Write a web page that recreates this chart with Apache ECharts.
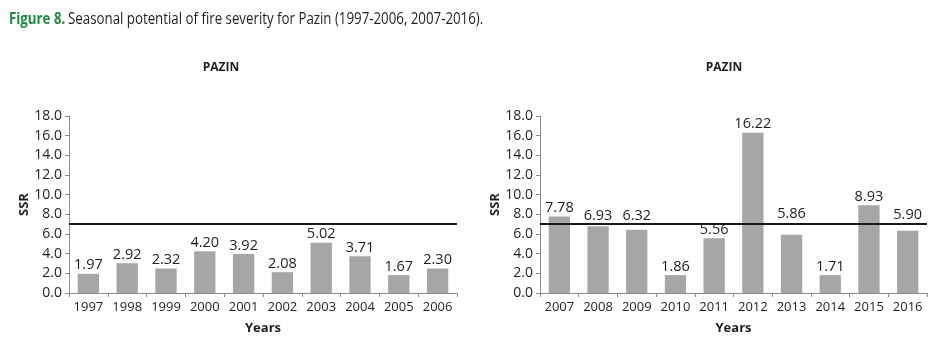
<!DOCTYPE html>
<html>
<head>
<meta charset="utf-8">
<script src="https://cdn.jsdelivr.net/npm/echarts@6/dist/echarts.min.js"></script>
<style>
  html, body { margin: 0; padding: 0; background: #ffffff; }
  #chart { width: 942px; height: 357px; }
</style>
</head>
<body>
<div id="chart"></div>
<script>
// ---- data ----
const yearsA = ['1997','1998','1999','2000','2001','2002','2003','2004','2005','2006'];
const barsA = [1.95, 3.03, 2.49, 4.24, 3.97, 2.12, 5.12, 3.74, 1.82, 2.49];
const labelsA = ['1.97','2.92','2.32','4.20','3.92','2.08','5.02','3.71','1.67','2.30'];

const yearsB = ['2007','2008','2009','2010','2011','2012','2013','2014','2015','2016'];
const barsB = [7.78, 6.80, 6.43, 1.82, 5.56, 16.30, 5.93, 1.82, 8.92, 6.33];
const labelsB = ['7.78','6.93','6.32','1.86','5.56','16.22','5.86','1.71','8.93','5.90'];

const threshold = 7.0;
const yTicks = ['0.0','2.0','4.0','6.0','8.0','10.0','12.0','14.0','16.0','18.0'];
const figureTag = 'Figure 8.';
const caption = 'Seasonal potential of fire severity for Pazin (1997-2006, 2007-2016).';
const panelTitle = 'PAZIN';
const xName = 'Years';
const yName = 'SSR';

// ---- chart ----
const FONT = '"Open Sans", "Noto Sans", sans-serif';
const TEXT = '#1f1f1f';
const AXIS = '#8c8c8c';
const BAR = '#a6a6a8';
const BASE_DIST = 1;

// extra label distance (px) for labels that were moved above the threshold line
const liftB = { '2008': 2, '2009': 5, '2013': 12, '2016': 7 };

function makeData(values, labels, years, lift) {
  return values.map((v, i) => {
    const extra = (lift && lift[years[i]]) || 0;
    return { value: v, label: { formatter: labels[i], distance: BASE_DIST + extra } };
  });
}

function xAxis(gridIndex, years) {
  return {
    type: 'category', gridIndex, data: years,
    axisLine: { lineStyle: { color: AXIS, width: 1 } },
    axisTick: { show: true, length: 4, lineStyle: { color: AXIS } },
    axisLabel: { color: TEXT, fontFamily: FONT, fontSize: 13, margin: 8, interval: 0 },
    name: xName, nameLocation: 'middle', nameGap: 29,
    nameTextStyle: { color: TEXT, fontFamily: FONT, fontSize: 13, fontWeight: 'bold' }
  };
}
function yAxis(gridIndex) {
  return {
    type: 'value', gridIndex, min: 0, max: 18, interval: 2,
    axisLine: { show: true, lineStyle: { color: AXIS, width: 1 } },
    axisTick: { show: true, length: 4, lineStyle: { color: AXIS } },
    splitLine: { show: false },
    axisLabel: { color: TEXT, fontFamily: FONT, fontSize: 14, margin: 7,
      formatter: v => yTicks[Math.round(v / 2)] },
    name: yName, nameLocation: 'middle', nameGap: 35,
    nameTextStyle: { color: TEXT, fontFamily: FONT, fontSize: 13, fontWeight: 'bold' }
  };
}
function barSeries(idx, values, labels, years, lift) {
  return {
    type: 'bar', xAxisIndex: idx, yAxisIndex: idx,
    data: makeData(values, labels, years, lift),
    barCategoryGap: '45%',
    itemStyle: { color: BAR },
    label: { show: true, position: 'top', distance: BASE_DIST, color: TEXT, fontFamily: FONT, fontSize: 14.5 },
    markLine: {
      silent: true, symbol: ['none', 'none'],
      label: { show: false },
      lineStyle: { color: '#1a1a1a', width: 2, type: 'solid' },
      data: [{ yAxis: threshold }]
    },
    animation: false
  };
}

const chart = echarts.init(document.getElementById('chart'), null, { renderer: 'canvas' });
chart.setOption({
  animation: false,
  backgroundColor: '#ffffff',
  graphic: [
    { type: 'text', left: 9, top: 11, scaleX: 0.83, silent: true,
      style: {
        text: '{g|' + figureTag + '} {t|' + caption + '}',
        rich: {
          g: { fill: '#1e8a3c', fontFamily: FONT, fontSize: 16, fontWeight: 'bold' },
          t: { fill: TEXT, fontFamily: FONT, fontSize: 16, fontWeight: 'normal' }
        }
      } }
  ],
  title: [
    { text: panelTitle, left: 216, top: 57, textAlign: 'center',
      textStyle: { color: TEXT, fontFamily: FONT, fontSize: 12, fontWeight: 'bold' } },
    { text: panelTitle, left: 719, top: 57, textAlign: 'center',
      textStyle: { color: TEXT, fontFamily: FONT, fontSize: 12, fontWeight: 'bold' } }
  ],
  grid: [
    { left: 69, right: 485, top: 116, bottom: 64 },
    { left: 540, right: 15, top: 116, bottom: 64 }
  ],
  xAxis: [xAxis(0, yearsA), xAxis(1, yearsB)],
  yAxis: [yAxis(0), yAxis(1)],
  series: [
    barSeries(0, barsA, labelsA, yearsA, null),
    barSeries(1, barsB, labelsB, yearsB, liftB)
  ]
});
</script>
</body>
</html>
